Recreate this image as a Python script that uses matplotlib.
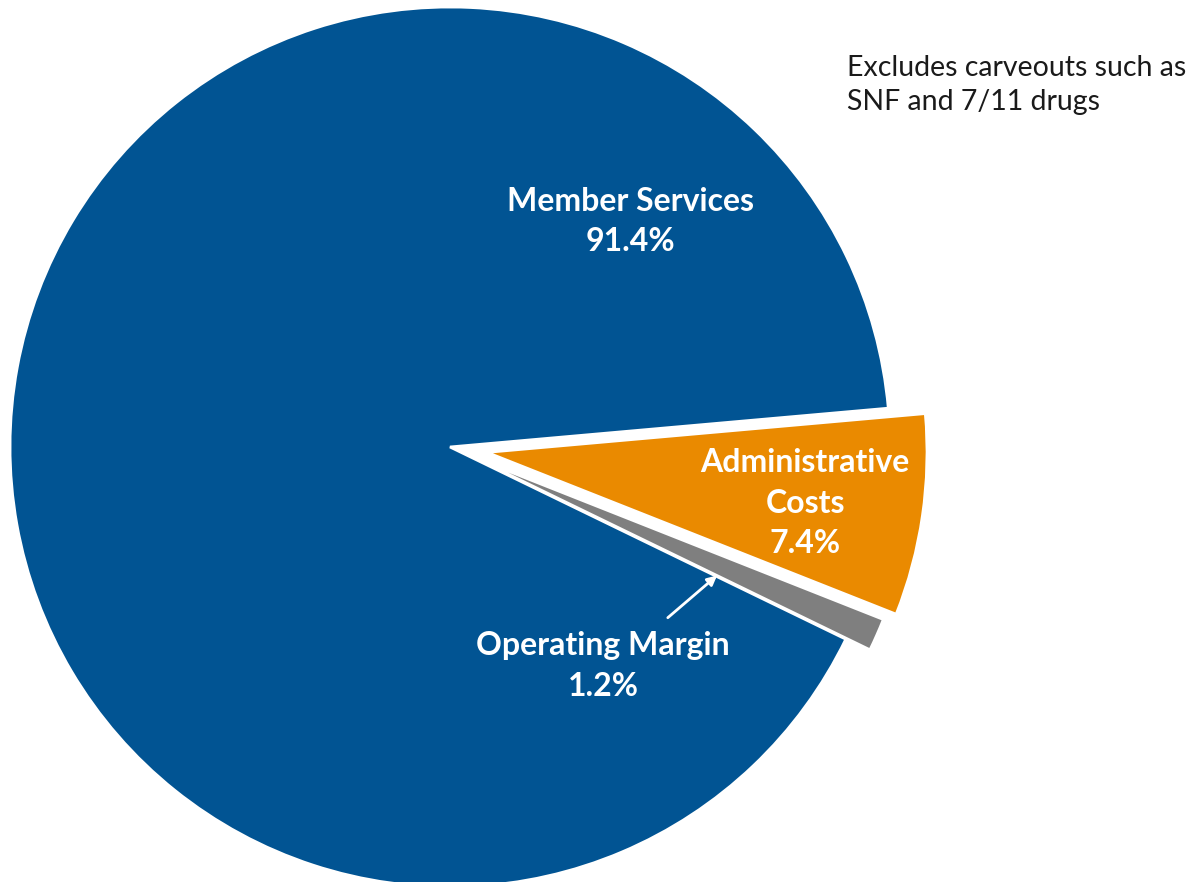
import numpy as np
import matplotlib.pyplot as plt

labels = ['Member Services', 'Administrative\nCosts', 'Operating Margin']
shares = [91.4, 7.4, 1.2]
colors = ['#015493', '#EA8A00', '#7F7F7F']
explode = [0.0, 0.085, 0.06]
note = 'Excludes carveouts such as\nSNF and 7/11 drugs'

fig = plt.figure(figsize=(11.95, 8.82), dpi=100)
ax = fig.add_axes([0, 0, 1, 1])

wedges, _ = ax.pie(shares, colors=colors, explode=explode,
                   startangle=-25.9, counterclock=False,
                   wedgeprops=dict(edgecolor='white', linewidth=2))

# pie centre sits at pixel (450, 447), radius 440 px
ax.set_xlim(-450 / 440, (1195 - 450) / 440)
ax.set_ylim(-(882 - 447) / 440, 447 / 440)
ax.set_aspect('equal')
ax.axis('off')

lab = dict(color='white', fontweight='bold', fontsize=23, family=['Lato', 'DejaVu Sans'],
           ha='center', va='center', linespacing=1.48)
ax.text(0.41, 0.512, f'{labels[0]}\n{shares[0]}%', **lab)
ax.text(0.807, -0.128, f'{labels[1]}\n{shares[1]}%', **lab)
ax.text(0.348, -0.498, f'{labels[2]}\n{shares[2]}%', **lab)

ax.annotate('', xy=(0.607, -0.292), xytext=(0.495, -0.388),
            arrowprops=dict(arrowstyle='-|>', color='white', lw=2,
                            mutation_scale=14, shrinkA=0, shrinkB=0))

ax.text(0.902, 0.823, note, color='#1a1a1a', fontsize=20.5, family=['Lato', 'DejaVu Sans'],
        ha='left', va='center', linespacing=1.4)

fig.savefig('out.png', dpi=100)
